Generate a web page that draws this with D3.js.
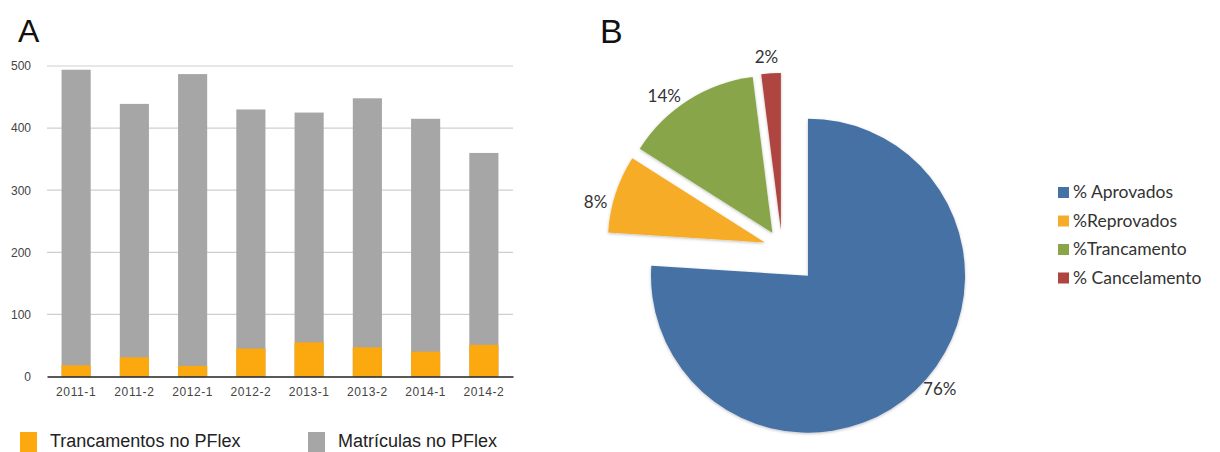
<!DOCTYPE html>
<html>
<head>
<meta charset="utf-8">
<script src="https://cdn.jsdelivr.net/npm/d3@7/dist/d3.min.js"></script>
<style>
  html, body { margin: 0; padding: 0; background: #fff; }
  svg { display: block; }
</style>
</head>
<body>
<svg id="chart" width="1220" height="452"></svg>
<script>
// Panel A: enrolments and course lock-outs per semester
const semesters = ["2011-1", "2011-2", "2012-1", "2012-2", "2013-1", "2013-2", "2014-1", "2014-2"];
const matriculas = [494, 439, 487, 430, 425, 448, 415, 360];
const trancamentos = [18, 31, 17, 45, 55, 47, 40, 51];
const yTicks = [0, 100, 200, 300, 400, 500];
const barLegend = ["Trancamentos no PFlex", "Matrículas no PFlex"];

// Panel B: outcome shares (%)
const outcomeLabels = ["% Aprovados", "%Reprovados", "%Trancamento", "% Cancelamento"];
const outcomeValues = [76, 8, 14, 2];

const svg = d3.select("#chart");

// ---------- Panel A ----------
const barFont = "'Liberation Sans', Arial, Helvetica, sans-serif";
const orange = "#FCA80F";
const gray = "#A6A6A6";

const x = d3.scaleBand().domain(semesters).range([47, 513]).paddingInner(0.5).paddingOuter(0.25);
const y = d3.scaleLinear().domain([0, 500]).range([376.5, 66]);

svg.append("text").attr("x", 18).attr("y", 42)
  .attr("font-family", barFont).attr("font-size", 32).attr("fill", "#111").text("A");

const grid = svg.append("g");
grid.selectAll("line").data(yTicks.filter(d => d > 0)).join("line")
  .attr("x1", 47).attr("x2", 513)
  .attr("y1", d => y(d)).attr("y2", d => y(d))
  .attr("stroke", "#cfcfcf").attr("stroke-width", 1.2);

const yAxis = svg.append("g").attr("transform", "translate(34,0)")
  .call(d3.axisLeft(y).tickValues(yTicks).tickSize(0).tickPadding(3));
yAxis.select(".domain").remove();
yAxis.selectAll("text").attr("font-family", barFont).attr("font-size", 12).attr("fill", "#444");

svg.append("g").selectAll("rect").data(semesters).join("rect")
  .attr("x", d => x(d)).attr("width", x.bandwidth())
  .attr("y", (d, i) => y(matriculas[i]))
  .attr("height", (d, i) => y(0) - y(matriculas[i]))
  .attr("fill", gray);

svg.append("g").selectAll("rect").data(semesters).join("rect")
  .attr("x", d => x(d)).attr("width", x.bandwidth())
  .attr("y", (d, i) => y(trancamentos[i]))
  .attr("height", (d, i) => y(0) - y(trancamentos[i]))
  .attr("fill", orange);

const xAxis = svg.append("g").attr("transform", `translate(0,${y(0)})`)
  .call(d3.axisBottom(x).tickSize(0).tickPadding(11));
xAxis.select(".domain").attr("stroke", "#222").attr("stroke-width", 1.6);
xAxis.selectAll("text").attr("font-family", barFont).attr("font-size", 12)
  .attr("letter-spacing", 0.6).attr("fill", "#444");

const barLegendColors = [orange, gray];
const bl = svg.append("g").selectAll("g").data(barLegend).join("g")
  .attr("transform", (d, i) => `translate(${i === 0 ? 20 : 308},0)`);
bl.append("rect").attr("x", 0).attr("y", 432).attr("width", 17).attr("height", 24)
  .attr("fill", (d, i) => barLegendColors[i]);
bl.append("text").attr("x", 30).attr("y", 447)
  .attr("font-family", barFont).attr("font-size", 18).attr("fill", "#222")
  .text(d => d);

// ---------- Panel B ----------
const pieFont = "Lato, 'Open Sans', sans-serif";
const pieColors = ["#4571A5", "#F6AC28", "#88A54A", "#AE4541"];
const cx = 782, cy = 248, r = 157;
const explode = [38, 18, 18, 18];
const labelRadius = r + 17;

svg.append("text").attr("x", 600).attr("y", 43)
  .attr("font-family", barFont).attr("font-size", 34).attr("fill", "#111").text("B");

const defs = svg.append("defs");
const sh = defs.append("filter").attr("id", "sliceShadow")
  .attr("x", "-20%").attr("y", "-20%").attr("width", "140%").attr("height", "140%");
sh.append("feDropShadow").attr("dx", 0).attr("dy", 1).attr("stdDeviation", 1.5)
  .attr("flood-color", "#000").attr("flood-opacity", 0.25);

const pie = d3.pie().sort(null).value(d => d);
const arcs = pie(outcomeValues);
const arc = d3.arc().innerRadius(0).outerRadius(r);

// labels sit a little counter-clockwise of each slice's middle
const labelAngle = d => {
  const span = d.endAngle - d.startAngle;
  return (d.startAngle + d.endAngle) / 2 - Math.min(6 * Math.PI / 180, 0.16 * span);
};

const slices = svg.append("g").selectAll("g").data(arcs).join("g")
  .attr("transform", (d, i) => {
    const a = (d.startAngle + d.endAngle) / 2;
    return `translate(${cx + explode[i] * Math.sin(a)},${cy - explode[i] * Math.cos(a)})`;
  });

slices.append("path").attr("d", arc)
  .attr("fill", (d, i) => pieColors[i])
  .attr("filter", "url(#sliceShadow)");

slices.append("text")
  .attr("x", d => labelRadius * Math.sin(labelAngle(d)))
  .attr("y", d => -labelRadius * Math.cos(labelAngle(d)))
  .attr("text-anchor", "middle").attr("dy", "0.35em")
  .attr("font-family", pieFont).attr("font-size", 17).attr("fill", "#333")
  .text(d => d.data + "%");

const pl = svg.append("g").selectAll("g").data(outcomeLabels).join("g")
  .attr("transform", (d, i) => `translate(1058,${192 + i * 28.5})`);
pl.append("rect").attr("x", 0).attr("y", -5).attr("width", 11).attr("height", 11)
  .attr("fill", (d, i) => pieColors[i]);
pl.append("text").attr("x", 15).attr("y", 0).attr("dy", "0.36em")
  .attr("font-family", pieFont).attr("font-size", 17.5).attr("fill", "#333")
  .text(d => d);
</script>
</body>
</html>
